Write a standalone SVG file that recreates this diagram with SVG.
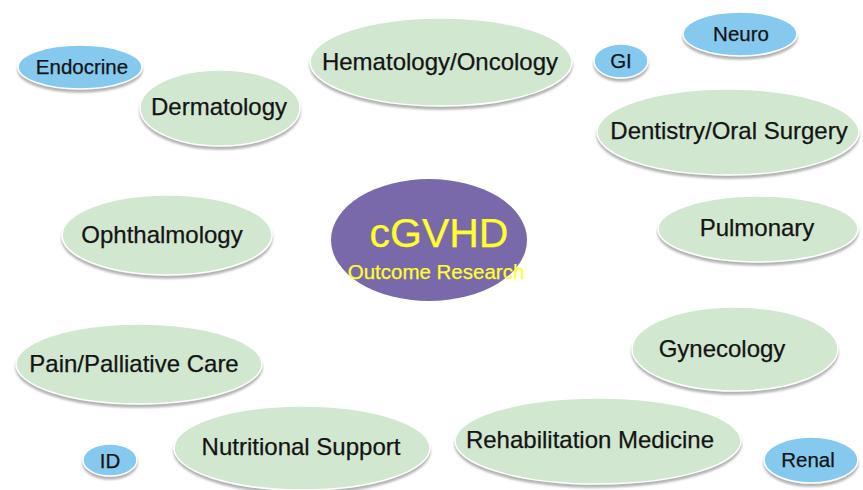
<svg xmlns="http://www.w3.org/2000/svg" width="863" height="490" viewBox="0 0 863 490">
<defs>
<filter id="sh" x="-10%" y="-10%" width="120%" height="130%">
<feDropShadow dx="0" dy="3" stdDeviation="1.2" flood-color="#9a9a9a" flood-opacity="0.75"/>
</filter>
<style>
.g{fill:#d1e7cf;stroke:#ffffff;stroke-width:1.5;filter:url(#sh)}
.b{fill:#85c9ef;stroke:#ffffff;stroke-width:1.5;filter:url(#sh)}
.c{fill:#7a69aa}
text{font-family:"Liberation Sans",Arial,sans-serif;text-anchor:middle;fill:#141414;stroke:#141414;stroke-width:0.25}
.L{font-size:24px}
.S{font-size:20.5px}
.y{fill:#ffff2a;stroke:#ffff2a}
</style>
</defs>
<rect x="0" y="0" width="863" height="490" fill="#ffffff"/>
<g id="endocrine"><ellipse class="b" cx="80" cy="67" rx="62" ry="22"/><text class="S" x="82" y="74">Endocrine</text></g>
<g id="dermatology"><ellipse class="g" cx="220" cy="108" rx="80" ry="38"/><text class="L" x="219" y="115">Dermatology</text></g>
<g id="hematology"><ellipse class="g" cx="441" cy="62" rx="131" ry="44"/><text class="L" x="440" y="70">Hematology/Oncology</text></g>
<g id="gi"><ellipse class="b" cx="621" cy="61" rx="27" ry="17"/><text class="S" x="621" y="68">GI</text></g>
<g id="neuro"><ellipse class="b" cx="740" cy="34" rx="57" ry="22"/><text class="S" x="741" y="41">Neuro</text></g>
<g id="dentistry"><ellipse class="g" cx="728" cy="132" rx="131" ry="43"/><text class="L" x="729" y="139">Dentistry/Oral Surgery</text></g>
<g id="pulmonary"><ellipse class="g" cx="758" cy="229" rx="100" ry="33"/><text class="L" x="757" y="236">Pulmonary</text></g>
<g id="cgvhd"><ellipse class="c" cx="429" cy="240" rx="98" ry="61"/><text class="y" x="439" y="247" font-size="41">cGVHD</text><text class="y" x="436" y="279" font-size="20.5">Outcome Research</text></g>
<g id="ophthalmology"><ellipse class="g" cx="167" cy="235" rx="105" ry="40"/><text class="L" x="162" y="243">Ophthalmology</text></g>
<g id="pain"><ellipse class="g" cx="139" cy="364" rx="123" ry="40"/><text class="L" x="134" y="372">Pain/Palliative Care</text></g>
<g id="gynecology"><ellipse class="g" cx="735" cy="349" rx="103" ry="42"/><text class="L" x="722" y="357">Gynecology</text></g>
<g id="id"><ellipse class="b" cx="110" cy="460" rx="27" ry="16"/><text class="S" x="110" y="468">ID</text></g>
<g id="nutritional"><ellipse class="g" cx="302" cy="448" rx="128" ry="42"/><text class="L" x="301" y="455">Nutritional Support</text></g>
<g id="rehabilitation"><ellipse class="g" cx="598" cy="441" rx="143" ry="43"/><text class="L" x="590" y="448">Rehabilitation Medicine</text></g>
<g id="renal"><ellipse class="b" cx="811" cy="460" rx="47" ry="23"/><text class="S" x="808" y="467">Renal</text></g>
<g id="connectors"></g>
</svg>
